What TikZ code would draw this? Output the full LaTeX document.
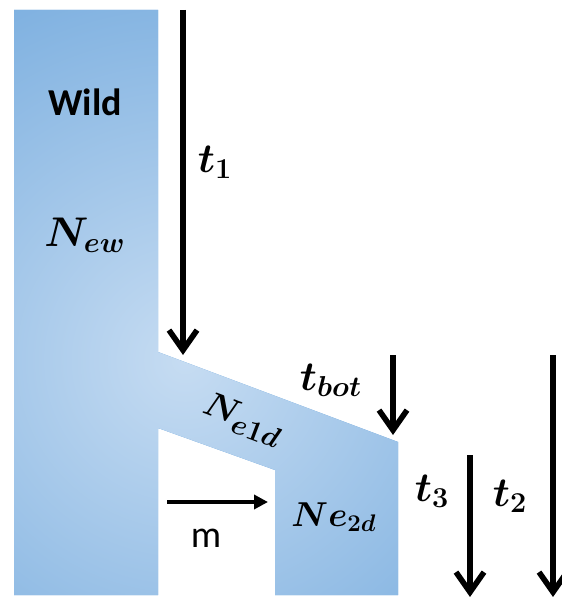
\documentclass[tikz,border=0pt]{standalone}
\usepackage{fontspec}
\newfontfamily\carlito{Carlito}
\usetikzlibrary{positioning, arrows.meta}
\definecolor{popdark}{RGB}{86,152,214}
\definecolor{poplight}{RGB}{198,220,242}
\tikzset{
  arr/.style={-{Straight Barb[length=10pt,width=14pt]}, line width=2.8pt, draw=black},
  marr/.style={-{Triangle[length=7pt,width=7pt]}, line width=2pt, draw=black},
  mlab/.style={font=\fontsize{21}{23}\selectfont\boldmath, inner sep=1pt},
  slab/.style={font=\carlito\fontsize{19}{20}\selectfont, inner sep=1pt}
}

\begin{document}
\begin{tikzpicture}[x=0.5pt, y=-0.5pt]
\useasboundingbox (0,0) rectangle (561,597);
% population shape
\begin{scope}
\clip (14,10) -- (158,10) -- (158,352) -- (398,442) -- (398,595) -- (275,595)
  -- (275,470) -- (158,428) -- (158,595) -- (14,595) -- cycle;
\fill[popdark] (0,0) rectangle (561,597);
\shade[inner color=poplight, outer color=popdark] (185,360) circle (310pt);
\end{scope}

% labels
\node[slab, font=\carlito\bfseries\fontsize{19}{20}\selectfont] (wild) at (85,102) {Wild};
\node[mlab] (new) at (85,235) {$N_{ew}$};
\node[mlab] (tone) at (215,162) {$t_1$};
\node[mlab] (tbot) at (331,380) {$t_{bot}$};
\node[mlab, font=\fontsize{19}{21}\selectfont\boldmath, rotate=-20.7] (neone) at (243,420) {$N_{e1d}$};
\node[mlab, font=\fontsize{17}{19}\selectfont\boldmath] (netwo) at (334,517) {$Ne_{2d}$};
\node[slab] (mig) at (206,538) {m};
\node[mlab] (tthree) at (432,491) {$t_3$};
\node[mlab] (ttwo) at (510,496) {$t_2$};

% time arrows
\coordinate (tonea) at (183,10);   \coordinate (toneb) at (183,355);
\coordinate (tbota) at (393,355);  \coordinate (tbotb) at (393,435);
\coordinate (tthreea) at (470,455); \coordinate (tthreeb) at (470,597);
\coordinate (ttwoa) at (553,355);  \coordinate (ttwob) at (553,597);
\coordinate (miga) at (167,502);   \coordinate (migb) at (268,502);
\draw[arr] (tonea) -- (toneb);
\draw[arr] (tbota) -- (tbotb);
\draw[arr] (tthreea) -- (tthreeb);
\draw[arr] (ttwoa) -- (ttwob);
\draw[marr] (miga) -- (migb);
\end{tikzpicture}
\end{document}
